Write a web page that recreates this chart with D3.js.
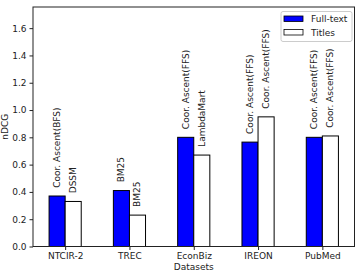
<!DOCTYPE html>
<html>
<head>
<meta charset="utf-8">
<script src="https://cdn.jsdelivr.net/npm/d3@7"></script>
<style>
  body { margin: 0; background: #fff; }
  text { font-family: "DejaVu Sans", sans-serif; fill: #222; }
</style>
</head>
<body>
<div id="chart"></div>
<script>
// data
const datasets = ['NTCIR-2', 'TREC', 'EconBiz', 'IREON', 'PubMed'];
const fullText = [0.37, 0.41, 0.80, 0.765, 0.80];
const titles = [0.33, 0.23, 0.67, 0.95, 0.81];
const fullTextModels = ['Coor. Ascent(BFS)', 'BM25', 'Coor. Ascent(FFS)', 'Coor. Ascent(FFS)', 'Coor. Ascent(FFS)'];
const titleModels = ['DSSM', 'BM25', 'LambdaMart', 'Coor. Ascent(FFS)', 'Coor. Ascent(FFS)'];
const yTicks = [0.0, 0.2, 0.4, 0.6, 0.8, 1.0, 1.2, 1.4, 1.6];

const W = 357, H = 271;
const margin = {top: 7, right: 2.5, bottom: 24.5, left: 33};
const width = W - margin.left - margin.right;
const height = H - margin.top - margin.bottom;
const barW = 0.25;
const fontSize = 9;

const svg = d3.select('#chart').append('svg')
    .attr('width', W)
    .attr('height', H);

const g = svg.append('g')
    .attr('transform', `translate(${margin.left},${margin.top})`);

const x = d3.scaleLinear()
    .domain([-0.5, datasets.length - 0.5])
    .range([0, width]);

const y = d3.scaleLinear()
    .domain([0, 1.755])
    .range([height, 0]);

const series = [
  {name: 'Full-text', values: fullText, labels: fullTextModels, fill: '#0000ff', off: -barW / 2},
  {name: 'Titles', values: titles, labels: titleModels, fill: '#ffffff', off: barW / 2}
];

// bars
series.forEach(s => {
  g.append('g')
    .selectAll('rect')
    .data(s.values)
    .join('rect')
      .attr('x', (d, i) => x(i + s.off - barW / 2))
      .attr('y', d => y(d))
      .attr('width', x(barW) - x(0))
      .attr('height', d => y(0) - y(d))
      .attr('fill', s.fill)
      .attr('stroke', '#000')
      .attr('stroke-width', 1);

  g.append('g')
    .selectAll('text')
    .data(s.values)
    .join('text')
      .attr('transform', (d, i) => `translate(${x(i + s.off)},${y(d + 0.06)}) rotate(-90)`)
      .attr('dominant-baseline', 'central')
      .attr('font-size', fontSize)
      .text((d, i) => s.labels[i]);
});

// axes
const yAxis = g.append('g')
    .call(d3.axisLeft(y).tickValues(yTicks).tickFormat(d3.format('.1f')).tickSize(3.5).tickPadding(3));
const xAxis = g.append('g')
    .attr('transform', `translate(0,${height})`)
    .call(d3.axisBottom(x).tickValues(d3.range(datasets.length)).tickFormat(i => datasets[i]).tickSize(3.5).tickPadding(3));

[yAxis, xAxis].forEach(a => {
  a.selectAll('text').attr('font-size', fontSize).attr('font-family', '"DejaVu Sans", sans-serif').attr('fill', '#222');
  a.select('.domain').remove();
  a.selectAll('.tick line').attr('stroke', '#222');
});

// frame
g.append('rect')
    .attr('width', width)
    .attr('height', height)
    .attr('fill', 'none')
    .attr('stroke', '#222')
    .attr('stroke-width', 1);

// axis titles
svg.append('text')
    .attr('transform', `translate(8,${margin.top + height / 2}) rotate(-90)`)
    .attr('text-anchor', 'middle')
    .attr('font-size', fontSize)
    .text('nDCG');

svg.append('text')
    .attr('x', margin.left + width / 2)
    .attr('y', 270)
    .attr('text-anchor', 'middle')
    .attr('font-size', fontSize)
    .text('Datasets');

// legend
const legend = svg.append('g')
    .attr('transform', 'translate(281,11.5)');

legend.append('rect')
    .attr('width', 71)
    .attr('height', 30)
    .attr('rx', 2)
    .attr('fill', '#fff')
    .attr('fill-opacity', 0.8)
    .attr('stroke', '#ccc');

series.forEach((s, i) => {
  const row = legend.append('g')
    .attr('transform', `translate(3,${4.5 + i * 13.5})`);
  row.append('rect')
      .attr('width', 19)
      .attr('height', 5.5)
      .attr('fill', s.fill)
      .attr('stroke', '#000')
      .attr('stroke-width', 0.8);
  row.append('text')
      .attr('x', 27)
      .attr('y', 3)
      .attr('dominant-baseline', 'central')
      .attr('font-size', fontSize)
      .text(s.name);
});
</script>
</body>
</html>
